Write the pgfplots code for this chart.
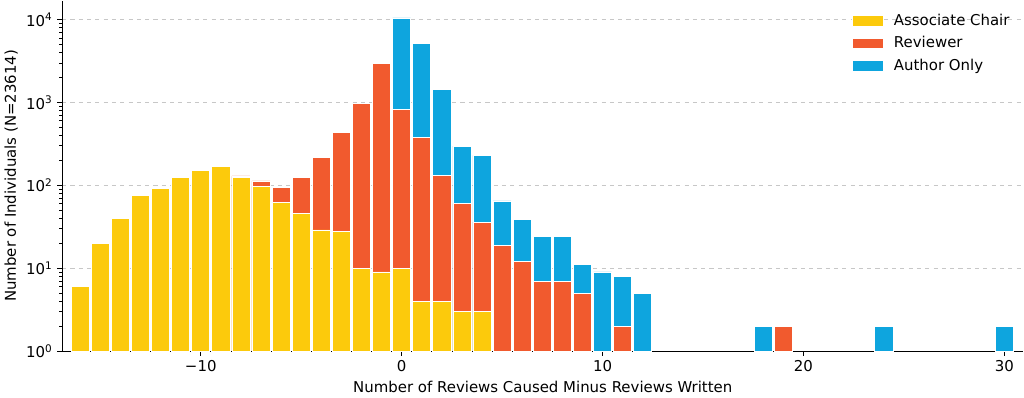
\documentclass[border=0pt]{standalone}
\usepackage{fontspec}
\setmainfont{DejaVu Sans}
\usepackage{pgfplots}
\pgfplotsset{compat=1.18}

\definecolor{acyellow}{HTML}{FCCA0C}
\definecolor{revred}{HTML}{F15A2E}
\definecolor{authblue}{HTML}{0EA5DE}

% cumulative bar tops (stack: AC, +Reviewer, +Author Only)
\begin{document}
\begin{tikzpicture}
\begin{axis}[
    scale only axis,
    width=695pt, height=253.4pt,
    ymode=log,
    ymin=1, ymax=17000,
    xmin=-16.9, xmax=30.95,
    axis lines*=left,
    axis line style={line width=0.8pt},
    ybar, bar width=0.9,
    every axis plot/.append style={draw=white, line width=0.5pt, bar shift=0pt},
    xtick={-10,0,10,20,30},
    xticklabels={−10,0,10,20,30},
    ytick={1,10,100,1000,10000},
    yticklabels={10\textsuperscript{0},10\textsuperscript{1},10\textsuperscript{2},10\textsuperscript{3},10\textsuperscript{4}},
    minor ytick={2,3,4,5,6,7,8,9,20,30,40,50,60,70,80,90,200,300,400,500,600,700,800,900,2000,3000,4000,5000,6000,7000,8000,9000},
    ymajorgrids,
    major grid style={dashed, black!22, line width=0.6pt},
    tick align=outside,
    major tick length=3.5pt, minor tick length=2pt,
    tick style={black, line width=0.8pt},
    minor tick style={black, line width=0.6pt},
    tick label style={font=\fontsize{10.8}{13}\selectfont},
    label style={font=\fontsize{10.8}{13}\selectfont},
    xlabel={Number of Reviews Caused Minus Reviews Written},
    ylabel={Number of Individuals (N=23614)},
    ylabel style={yshift=-1pt},
    reverse legend,
    legend cell align=left,
    legend style={draw=none, fill=none, at={(0.993,0.978)}, anchor=north east,
        row sep=2.5pt, font=\fontsize{10.8}{13}\selectfont},
    legend image code/.code={\fill[#1] (0pt,-3.85pt) rectangle (22pt,3.85pt);
        \path[draw=none, fill=none] (0pt,0pt) -- (28pt,0pt);},
]
\addplot[fill=authblue] coordinates {
    (0,10500) (1,5220) (2,1449) (3,297) (4,230) (5,65) (6,39) (7,24) (8,24)
    (9,11) (10,9) (11,8) (12,5) (18,2) (24,2) (30,2)
};
\addlegendentry{Author Only}
\addplot[fill=revred] coordinates {
    (-10,155) (-9,176) (-8,130) (-7,113) (-6,94) (-5,124) (-4,217) (-3,438)
    (-2,984) (-1,2946) (0,819) (1,381) (2,132) (3,60) (4,36) (5,19) (6,12)
    (7,7) (8,7) (9,5) (11,2) (19,2)
};
\addlegendentry{Reviewer}
\addplot[fill=acyellow] coordinates {
    (-16,6) (-15,20) (-14,40) (-13,75) (-12,92) (-11,124) (-10,153) (-9,170)
    (-8,124) (-7,96) (-6,62) (-5,46) (-4,29) (-3,28) (-2,10) (-1,9) (0,10)
    (1,4) (2,4) (3,3) (4,3)
};
\addlegendentry{Associate Chair}
\end{axis}
\end{tikzpicture}
\end{document}
